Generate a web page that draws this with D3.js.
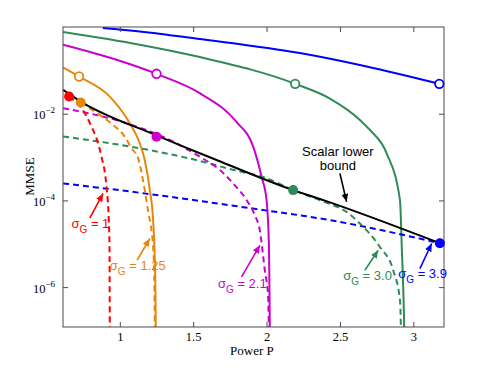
<!DOCTYPE html>
<html>
<head>
<meta charset="utf-8">
<script src="https://cdn.jsdelivr.net/npm/d3@7"></script>
<style>
body { margin: 0; background: #fff; }
</style>
</head>
<body>
<div id="chart"></div>
<script>
// values: power P and log10(MMSE)
const blueSolidP = [0.884, 1.136, 1.545, 2.227, 2.682, 3.177];
const blueSolidLog = [-0.023, -0.102, -0.277, -0.601, -0.911, -1.311];

const greenSolidP = [0.6135, 1.136, 1.545, 2.195, 2.4315, 2.636, 2.704, 2.818, 2.909, 2.922, 2.938, 2.941];
const greenSolidLog = [-0.116, -0.409, -0.694, -1.311, -1.65, -2.143, -2.375, -2.913, -3.994, -5.149, -6.92, -7.5];

const magentaSolidP = [0.6135, 0.9775, 1.250, 1.545, 1.795, 1.909, 1.966, 2.000, 2.017, 2.022, 2.024];
const magentaSolidLog = [-0.409, -0.756, -1.080, -1.526, -2.190, -2.761, -3.454, -3.993, -5.149, -6.92, -7.5];

const orangeSolidP = [0.6135, 0.7225, 0.9318, 1.068, 1.136, 1.170, 1.2045, 1.227, 1.242, 1.245, 1.247];
const orangeSolidLog = [-0.929, -1.142, -1.605, -2.220, -2.682, -3.068, -3.762, -4.455, -5.843, -6.92, -7.5];

const redDashP = [0.6544, 0.7614, 0.8071, 0.8521, 0.8753, 0.9093, 0.925, 0.930, 0.9318, 0.9325];
const redDashLog = [-1.605, -1.988, -2.298, -2.682, -2.992, -3.686, -4.455, -5.07, -6.92, -7.5];

const orangeDashP = [0.7342, 0.8637, 0.9543, 1.034, 1.080, 1.125, 1.164, 1.198, 1.211, 1.232, 1.2386, 1.240];
const orangeDashLog = [-1.743, -2.028, -2.259, -2.530, -2.798, -3.029, -3.646, -4.340, -4.571, -5.380, -6.92, -7.5];

const magentaDashP = [0.6135, 1.0457, 1.341, 1.545, 1.682, 1.772, 1.864, 1.920, 1.954, 1.988, 2.011, 2.015, 2.017];
const magentaDashLog = [-1.873, -2.220, -2.606, -2.992, -3.299, -3.607, -3.993, -4.340, -4.687, -5.612, -6.229, -6.92, -7.5];

const greenDashP = [0.6135, 1.136, 1.500, 1.818, 1.977, 2.181, 2.397, 2.534, 2.636, 2.772, 2.863, 2.909, 2.915, 2.917];
const greenDashLog = [-2.525, -2.798, -3.052, -3.334, -3.461, -3.762, -4.039, -4.240, -4.532, -5.073, -5.612, -6.305, -6.92, -7.5];

const blueDashP = [0.6135, 1.136, 1.886, 2.4315, 3.113, 3.181];
const blueDashLog = [-3.607, -3.824, -4.178, -4.455, -4.934, -4.987];

const boundP = [0.6135, 0.7342, 1.250, 1.545, 1.659, 2.181, 2.397, 3.181];
const boundLog = [-1.450, -1.72, -2.50, -2.913, -3.068, -3.762, -4.005, -4.987];

const filledP = [0.6544, 0.7342, 1.250, 2.181, 3.181];
const filledLog = [-1.605, -1.743, -2.530, -3.762, -4.987];
const openP = [0.7225, 1.250, 2.195, 3.177];
const openLog = [-1.142, -1.080, -1.311, -1.311];

const sigmaLabels = ['1', '1.25', '2.1', '3.0', '3.9'];
const labelP = [0.6708, 0.932, 1.669, 2.522, 2.897];
const labelLog = [-4.640, -5.612, -6.027, -5.843, -5.797];
const arrowTailP = [0.7955, 1.118, 1.8296, 2.670, 3.045];
const arrowTailLog = [-4.409, -5.380, -5.766, -5.612, -5.572];
const arrowHeadP = [0.8862, 1.2045, 1.9543, 2.761, 3.125];
const arrowHeadLog = [-3.838, -4.879, -5.035, -5.149, -4.994];

const xTicks = [1, 1.5, 2, 2.5, 3];
const yTicks = [-6, -4, -2];

const RED = '#ff0000', ORANGE = '#e8860c', MAGENTA = '#cc00cc', GREEN = '#2e8b57', BLUE = '#0000ff';
const sigmaColors = [RED, ORANGE, MAGENTA, GREEN, BLUE];

const margin = {top: 27, right: 47, bottom: 41, left: 63};
const width = 491 - margin.left - margin.right;
const height = 368 - margin.top - margin.bottom;

const svg = d3.select('#chart')
    .append('svg')
    .attr('width', 491)
    .attr('height', 368)
    .append('g')
    .attr('transform', `translate(${margin.left},${margin.top})`);

const x = d3.scaleLinear().domain([0.613, 3.209]).range([0, width]);
const y = d3.scaleLog().domain([Math.pow(10, -6.92), 1]).range([height, 0]);

const zip = (ps, ls) => ps.map((p, i) => ({p: p, m: Math.pow(10, ls[i])}));

svg.append('clipPath').attr('id', 'clip')
    .append('rect').attr('width', width).attr('height', height);

// arrow heads
const defs = svg.append('defs');
[['black', '#000']].concat(sigmaColors.map((c, i) => ['s' + i, c])).forEach(([id, c]) => {
    defs.append('marker')
        .attr('id', 'arr-' + id)
        .attr('markerUnits', 'userSpaceOnUse')
        .attr('markerWidth', 9).attr('markerHeight', 8)
        .attr('refX', 8).attr('refY', 3.5)
        .attr('orient', 'auto')
        .append('path').attr('d', 'M0,0 L8,3.5 L0,7 Z').attr('fill', c);
});

const line = d3.line()
    .x(d => x(d.p))
    .y(d => y(d.m))
    .curve(d3.curveMonotoneX);

const curves = [
    {d: zip(blueSolidP, blueSolidLog), c: BLUE},
    {d: zip(greenSolidP, greenSolidLog), c: GREEN},
    {d: zip(magentaSolidP, magentaSolidLog), c: MAGENTA},
    {d: zip(orangeSolidP, orangeSolidLog), c: ORANGE},
    {d: zip(blueDashP, blueDashLog), c: BLUE, dash: true},
    {d: zip(greenDashP, greenDashLog), c: GREEN, dash: true},
    {d: zip(magentaDashP, magentaDashLog), c: MAGENTA, dash: true},
    {d: zip(orangeDashP, orangeDashLog), c: ORANGE, dash: true},
    {d: zip(redDashP, redDashLog), c: RED, dash: true},
    {d: zip(boundP, boundLog), c: '#000'}
];

const plot = svg.append('g').attr('clip-path', 'url(#clip)');
plot.selectAll('path.curve')
    .data(curves)
    .enter()
    .append('path')
    .attr('class', 'curve')
    .attr('d', s => line(s.d))
    .attr('fill', 'none')
    .attr('stroke', s => s.c)
    .attr('stroke-width', 2)
    .attr('stroke-dasharray', s => s.dash ? '6,4' : null);

// axes box and inward ticks
const axisColor = '#4a4a4a';
const xb = svg.append('g').attr('transform', `translate(0,${height})`)
    .call(d3.axisBottom(x).tickValues(xTicks).tickSizeInner(-5).tickSizeOuter(0).tickPadding(5).tickFormat(d3.format('')));
const xt = svg.append('g')
    .call(d3.axisTop(x).tickValues(xTicks).tickSizeInner(-5).tickSizeOuter(0).tickFormat(''));
const yl = svg.append('g')
    .call(d3.axisLeft(y).tickValues(yTicks.map(t => Math.pow(10, t))).tickSizeInner(-5).tickSizeOuter(0).tickFormat(''));
const yr = svg.append('g').attr('transform', `translate(${width},0)`)
    .call(d3.axisRight(y).tickValues(yTicks.map(t => Math.pow(10, t))).tickSizeInner(-5).tickSizeOuter(0).tickFormat(''));
[xb, xt, yl, yr].forEach(g => {
    g.select('.domain').remove();
    g.selectAll('line').attr('stroke', axisColor);
});
xb.selectAll('text')
    .attr('fill', '#000')
    .style('font-family', '"Liberation Serif", "Times New Roman", serif')
    .style('font-size', '12.5px');

yl.selectAll('.tick').each(function(d) {
    const t = d3.select(this).append('text')
        .attr('x', -8)
        .attr('y', 5)
        .attr('text-anchor', 'end')
        .attr('fill', '#000')
        .style('font-family', '"Liberation Serif", "Times New Roman", serif')
        .style('font-size', '12.5px');
    t.append('tspan').text('10');
    t.append('tspan').attr('dy', -6).style('font-size', '9px').text('\u2212' + (-Math.round(Math.log10(d))));
});

svg.append('rect')
    .attr('width', width).attr('height', height)
    .attr('fill', 'none')
    .attr('stroke', axisColor)
    .attr('stroke-width', 1);

// markers
svg.selectAll('circle.filled')
    .data(zip(filledP, filledLog))
    .enter()
    .append('circle')
    .attr('class', 'filled')
    .attr('cx', d => x(d.p))
    .attr('cy', d => y(d.m))
    .attr('r', 5)
    .attr('fill', (d, i) => sigmaColors[i]);

svg.selectAll('circle.open')
    .data(zip(openP, openLog))
    .enter()
    .append('circle')
    .attr('class', 'open')
    .attr('cx', d => x(d.p))
    .attr('cy', d => y(d.m))
    .attr('r', 4.3)
    .attr('fill', '#fff')
    .attr('stroke', (d, i) => sigmaColors[i + 1])
    .attr('stroke-width', 1.8);

// axis labels
svg.append('text')
    .attr('x', x(1.9))
    .attr('y', height + 28)
    .attr('text-anchor', 'middle')
    .style('font-family', '"Liberation Serif", "Times New Roman", serif')
    .style('font-size', '13px')
    .text('Power P');

svg.append('text')
    .attr('transform', 'rotate(-90)')
    .attr('x', -(y(Math.pow(10, -3.45))))
    .attr('y', -29)
    .attr('text-anchor', 'middle')
    .style('font-family', '"Liberation Serif", "Times New Roman", serif')
    .style('font-size', '13px')
    .text('MMSE');

// annotations
const sans = '"Liberation Sans", Arial, Helvetica, sans-serif';
sigmaLabels.forEach((lab, i) => {
    svg.append('line')
        .attr('x1', x(arrowTailP[i])).attr('y1', y(Math.pow(10, arrowTailLog[i])))
        .attr('x2', x(arrowHeadP[i])).attr('y2', y(Math.pow(10, arrowHeadLog[i])))
        .attr('stroke', sigmaColors[i])
        .attr('stroke-width', 1.6)
        .attr('marker-end', `url(#arr-s${i})`);
    const t = svg.append('text')
        .attr('x', x(labelP[i]))
        .attr('y', y(Math.pow(10, labelLog[i])))
        .attr('fill', sigmaColors[i])
        .style('font-family', sans)
        .style('font-size', '13px');
    t.append('tspan').text('\u03c3');
    t.append('tspan').attr('dy', 5).style('font-size', '10px').text('G');
    t.append('tspan').attr('dy', -5).text(' = ' + lab);
});

const boundText = svg.append('text')
    .attr('text-anchor', 'middle')
    .style('font-family', sans)
    .style('font-size', '13px')
    .attr('fill', '#000');
boundText.append('tspan').attr('x', x(2.486)).attr('y', y(Math.pow(10, -2.98))).text('Scalar lower');
boundText.append('tspan').attr('x', x(2.486)).attr('y', y(Math.pow(10, -3.30))).text('bound');

svg.append('line')
    .attr('x1', x(2.4997)).attr('y1', y(Math.pow(10, -3.376)))
    .attr('x2', x(2.5454)).attr('y2', y(Math.pow(10, -4.032)))
    .attr('stroke', '#000')
    .attr('stroke-width', 1.6)
    .attr('marker-end', 'url(#arr-black)');
</script>
</body>
</html>
